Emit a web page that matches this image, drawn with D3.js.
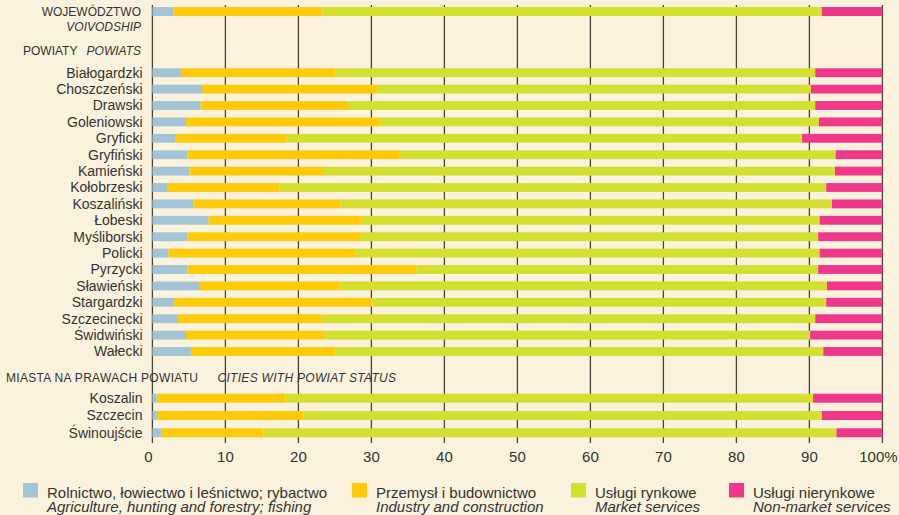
<!DOCTYPE html>
<html lang="pl">
<head>
<meta charset="UTF-8">
<title>Struktura zatrudnienia</title>
<style>
  body { margin: 0; background: #faf2dc; }
  svg text { font-family: 'Liberation Sans', Arial, sans-serif; fill: #333; }
</style>
<script src="https://d3js.org/d3.v7.min.js"></script>
</head>
<body>
<svg width="899" height="515"></svg>
<script>
// rows, grouped as in the reference
const voivodship = ["WOJEWÓDZTWO"];
const powiats = ["Białogardzki", "Choszczeński", "Drawski", "Goleniowski", "Gryficki", "Gryfiński",
  "Kamieński", "Kołobrzeski", "Koszaliński", "Łobeski", "Myśliborski", "Policki", "Pyrzycki",
  "Sławieński", "Stargardzki", "Szczecinecki", "Świdwiński", "Wałecki"];
const cities = ["Koszalin", "Szczecin", "Świnoujście"];

// shares (%) in the order: voivodship, powiats, cities
const agriculture = [2.9, 3.9, 6.8, 6.6, 4.6, 3.2, 4.8, 5.1, 2.0, 5.6, 7.7, 4.8, 2.2, 4.8, 6.5, 3.0, 3.5, 4.6, 5.3, 0.6, 0.6, 1.2];
const industry    = [20.4, 21.2, 24.0, 20.3, 26.5, 15.2, 29.1, 18.4, 15.4, 20.2, 20.9, 23.5, 25.6, 31.4, 19.1, 27.1, 19.7, 18.9, 19.8, 17.6, 20.1, 14.0];
const market      = [68.4, 65.7, 59.4, 63.9, 60.2, 70.6, 59.7, 70.0, 74.9, 67.3, 62.8, 62.9, 63.6, 55.0, 66.8, 62.2, 67.6, 66.6, 66.8, 72.3, 71.0, 78.5];
const nonMarket   = [8.3, 9.2, 9.8, 9.2, 8.7, 11.0, 6.4, 6.5, 7.7, 6.9, 8.6, 8.8, 8.6, 8.8, 7.6, 7.7, 9.2, 9.9, 8.1, 9.5, 8.3, 6.3];

const keys = ["agriculture", "industry", "market", "nonMarket"];
const legendPl = ["Rolnictwo, łowiectwo i leśnictwo; rybactwo", "Przemysł i budownictwo", "Usługi rynkowe", "Usługi nierynkowe"];
const legendEn = ["Agriculture, hunting and forestry; fishing", "Industry and construction", "Market services", "Non-market services"];
const ticks = [0, 10, 20, 30, 40, 50, 60, 70, 80, 90, 100];

const names = voivodship.concat(powiats, cities);
const rows = names.map((n, i) => ({
  name: n,
  agriculture: agriculture[i], industry: industry[i], market: market[i], nonMarket: nonMarket[i]
}));

const svg = d3.select("svg");
const color = d3.scaleOrdinal().domain(keys).range(["#a2c4d4", "#ffca0a", "#d5df2f", "#ef388a"]);

const x = d3.scaleLinear().domain([0, 100]).range([152.4, 882.4]);

// separate band scales for the three groups
const yV = d3.scaleBand().domain(voivodship).range([2.5, 20.5]).paddingInner(0.5).paddingOuter(0.25);
const yP = d3.scaleBand().domain(powiats).range([64.5, 359.7]).paddingInner(0.46).paddingOuter(0.23);
const yC = d3.scaleBand().domain(cities).range([389.6, 441.4]).paddingInner(0.48).paddingOuter(0.24);
const yOf = n => voivodship.includes(n) ? yV(n) : powiats.includes(n) ? yP(n) : yC(n);
const bw = n => voivodship.includes(n) ? yV.bandwidth() : powiats.includes(n) ? yP.bandwidth() : yC.bandwidth();

// grid lines
svg.append("g").selectAll("line")
  .data(ticks).enter().append("line")
  .attr("x1", d => x(d)).attr("x2", d => x(d))
  .attr("y1", 5).attr("y2", 443)
  .attr("stroke", "#4a423a").attr("stroke-width", 1.3);

// stacked bars
const series = d3.stack().keys(keys)(rows);
svg.append("g").selectAll("g")
  .data(series).enter().append("g")
  .attr("fill", d => color(d.key))
  .selectAll("rect")
  .data(d => d).enter().append("rect")
  .attr("x", d => x(d[0]))
  .attr("width", d => x(d[1]) - x(d[0]))
  .attr("y", d => yOf(d.data.name))
  .attr("height", d => bw(d.data.name));

// row labels
svg.append("g").selectAll("text")
  .data(powiats.concat(cities)).enter().append("text")
  .attr("x", 142.5)
  .attr("y", d => yOf(d) + bw(d) / 2)
  .attr("dy", "0.35em")
  .attr("text-anchor", "end")
  .style("font-size", "14px")
  .text(d => d);

// group headers
const hdr = svg.append("g").style("font-size", "12px");
hdr.append("text").attr("x", 141).attr("y", 16).attr("text-anchor", "end").text("WOJEWÓDZTWO");
hdr.append("text").attr("x", 141).attr("y", 30.5).attr("text-anchor", "end").style("font-style", "italic").text("VOIVODSHIP");
hdr.append("text").attr("x", 23).attr("y", 54.5).text("POWIATY");
hdr.append("text").attr("x", 141).attr("y", 54.5).attr("text-anchor", "end").style("font-style", "italic").text("POWIATS");
hdr.append("text").attr("x", 6).attr("y", 381.5).attr("textLength", 192).text("MIASTA NA PRAWACH POWIATU");
hdr.append("text").attr("x", 217.5).attr("y", 381.5).attr("textLength", 178.5).style("font-style", "italic").text("CITIES WITH POWIAT STATUS");

// x axis labels
svg.append("g").selectAll("text")
  .data(ticks).enter().append("text")
  .attr("x", d => x(d) + (d === 100 ? -4 : (d === 0 ? -4 : 0)))
  .attr("y", 462)
  .attr("text-anchor", "middle")
  .style("font-size", "15px")
  .text(d => d === 100 ? "100%" : d);

// legend
const legendX = [23, 352, 571, 729];
const lg = svg.append("g").selectAll("g")
  .data(keys).enter().append("g")
  .attr("transform", (d, i) => `translate(${legendX[i]},0)`);
lg.append("rect").attr("x", 0).attr("y", 483).attr("width", 15).attr("height", 14.5).attr("fill", d => color(d));
lg.append("text").attr("x", 24).attr("y", 497.5).style("font-size", "15px").text((d, i) => legendPl[i]);
lg.append("text").attr("x", 24).attr("y", 512).style("font-size", "15px").style("font-style", "italic").text((d, i) => legendEn[i]);
</script>
</body>
</html>
